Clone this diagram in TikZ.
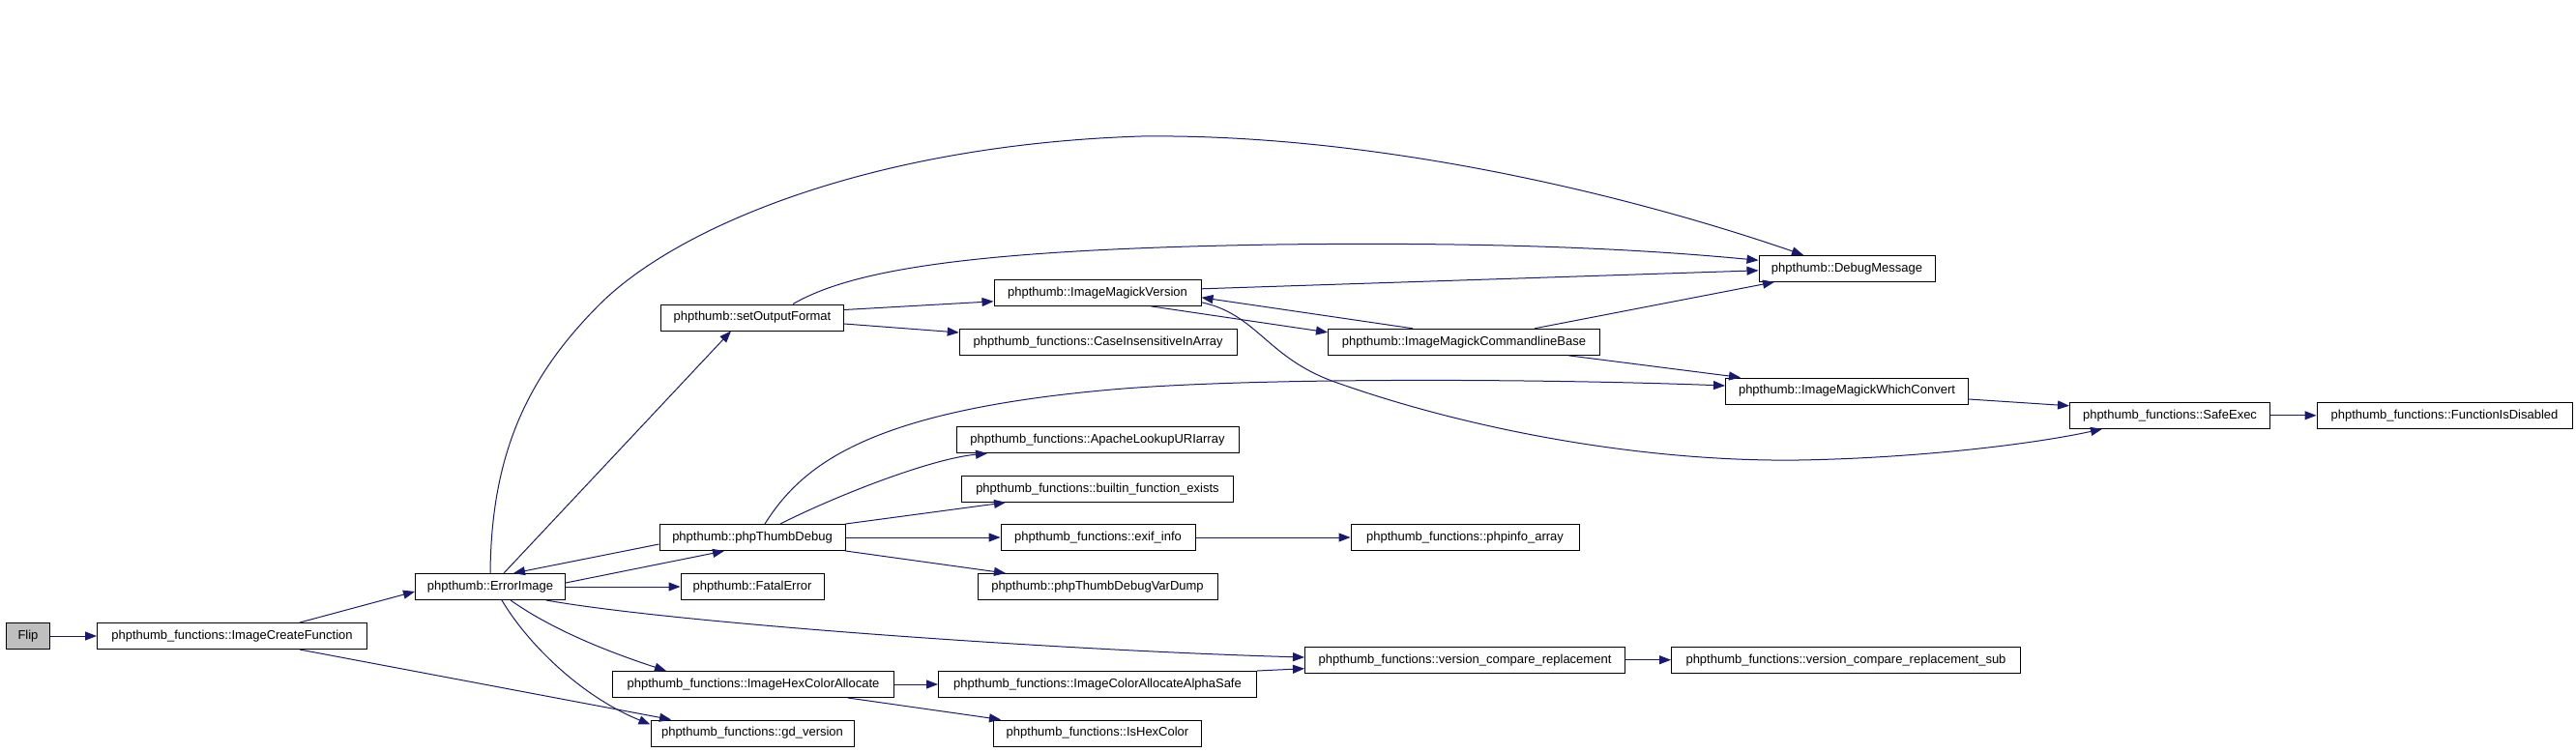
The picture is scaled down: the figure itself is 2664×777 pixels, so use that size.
\documentclass[tikz,border=0pt]{standalone}
\usepackage{fontspec}
\setmainfont{Liberation Sans}
\usetikzlibrary{arrows.meta}
\definecolor{edgeblue}{RGB}{25,25,112}
\definecolor{flipgray}{RGB}{191,191,191}
\begin{document}
\begin{tikzpicture}[x=1pt,y=-1pt,
  fn/.style={draw=black, line width=1pt, fill=white, minimum height=27pt, inner sep=0pt, font=\fontsize{13}{15}\selectfont},
  call/.style={draw=edgeblue, line width=1pt, -{Triangle[length=12pt,width=9pt]}},
]
\path[fill=white, use as bounding box] (0,0) rectangle (2664,777);

% nodes
\node[fn, minimum width=45pt, fill=flipgray] (flip) at (29,658) {Flip};
\node[fn, minimum width=279pt] (icf) at (240,658) {phpthumb\_functions::ImageCreateFunction};
\node[fn, minimum width=155pt] (errimg) at (507,607) {phpthumb::ErrorImage};
\node[fn, minimum width=189pt] (setout) at (778,328.5) {phpthumb::setOutputFormat};
\node[fn, minimum width=192pt] (dbg) at (778,556) {phpthumb::phpThumbDebug};
\node[fn, minimum width=148pt] (fatal) at (778,607) {phpthumb::FatalError};
\node[fn, minimum width=291pt] (hexalloc) at (779,708) {phpthumb\_functions::ImageHexColorAllocate};
\node[fn, minimum width=210pt] (gdver) at (778,758.5) {phpthumb\_functions::gd\_version};
\node[fn, minimum width=214pt] (imver) at (1135,302.8) {phpthumb::ImageMagickVersion};
\node[fn, minimum width=287pt] (caseins) at (1135.7,353.7) {phpthumb\_functions::CaseInsensitiveInArray};
\node[fn, minimum width=292pt] (apache) at (1135,455) {phpthumb\_functions::ApacheLookupURIarray};
\node[fn, minimum width=281pt] (builtin) at (1135,505.8) {phpthumb\_functions::builtin\_function\_exists};
\node[fn, minimum width=201pt] (exif) at (1135.5,556) {phpthumb\_functions::exif\_info};
\node[fn, minimum width=248pt] (dump) at (1135,607) {phpthumb::phpThumbDebugVarDump};
\node[fn, minimum width=329pt] (alphasafe) at (1135,708) {phpthumb\_functions::ImageColorAllocateAlphaSafe};
\node[fn, minimum width=215pt] (ishex) at (1135,758.5) {phpthumb\_functions::IsHexColor};
\node[fn, minimum width=281pt] (cmdbase) at (1514,353.8) {phpthumb::ImageMagickCommandlineBase};
\node[fn, minimum width=236pt] (phpinfo) at (1515,556) {phpthumb\_functions::phpinfo\_array};
\node[fn, minimum width=331pt] (vcr) at (1515,682.7) {phpthumb\_functions::version\_compare\_replacement};
\node[fn, minimum width=182pt] (dbgmsg) at (1910,277.8) {phpthumb::DebugMessage};
\node[fn, minimum width=251pt] (whichconv) at (1910,404.5) {phpthumb::ImageMagickWhichConvert};
\node[fn, minimum width=361pt] (vcrsub) at (1909,682.7) {phpthumb\_functions::version\_compare\_replacement\_sub};
\node[fn, minimum width=207pt] (safeexec) at (2244,429.8) {phpthumb\_functions::SafeExec};
\node[fn, minimum width=264pt] (fndis) at (2528,429.8) {phpthumb\_functions::FunctionIsDisabled};

% straight edges
\draw[call] (flip) -- (icf);
\draw[call] ([xshift=70pt]icf.north) -- ([yshift=-5pt]errimg.west);
\draw[call] ([xshift=70pt]icf.south) -- ([xshift=-84pt]gdver.north);
\draw[call] ([xshift=14pt]errimg.north) -- ([xshift=-22pt]setout.south);
\draw[call] (errimg) -- (fatal);
\draw[call] ([yshift=4pt]errimg.east) -- ([xshift=-29pt]dbg.south);
\draw[call] ([yshift=-7pt]dbg.west) -- ([xshift=24pt]errimg.north);
\draw[call] ([yshift=8pt]setout.east) -- ([yshift=-9pt]imver.west);
\draw[call] ([yshift=-6.5pt]setout.east) -- ([yshift=9.7pt]caseins.west);
\draw[call] ([yshift=4pt]imver.east) -- ([yshift=-2pt]dbgmsg.west);
\draw[call] ([xshift=55pt]imver.south) -- ([yshift=10pt]cmdbase.west);
\draw[call] ([xshift=-53pt]cmdbase.north) -- ([yshift=-5pt]imver.east);
\draw[call] ([xshift=73pt]cmdbase.north) -- ([xshift=-75pt]dbgmsg.south);
\draw[call] ([xshift=108pt]cmdbase.south) -- ([xshift=-110pt]whichconv.north);
\draw[call] ([yshift=-8.5pt]whichconv.east) -- ([yshift=10pt]safeexec.west);
\draw[call] (safeexec) -- (fndis);
\draw[call] (dbg.north east) -- ([xshift=-95pt]builtin.south);
\draw[call] (dbg) -- (exif);
\draw[call] (dbg.south east) -- ([xshift=-95pt]dump.north);
\draw[call] (exif) -- (phpinfo);
\draw[call] (hexalloc) -- (alphasafe);
\draw[call] ([xshift=98pt]hexalloc.south) -- ([xshift=-100pt]ishex.north);
\draw[call] (alphasafe.north east) -- ([yshift=-9pt]vcr.west);
\draw[call] (vcr) -- (vcrsub);

% curved edges
\draw[call] ([xshift=29pt]dbg.north) .. controls (860,515) and (960,475) .. ([xshift=-114pt]apache.south);
\draw[call] ([xshift=13pt]dbg.north) .. controls (830,480) and (900,425) .. (1150,403)
  .. controls (1300,390) and (1600,392) .. ([yshift=5.5pt]whichconv.west);
\draw[call] ([yshift=-10pt]imver.east) .. controls (1300,325) and (1310,370) .. (1380,395)
  .. controls (1520,445) and (1700,478) .. (1860,476)
  .. controls (1980,474) and (2100,460) .. ([xshift=-70pt]safeexec.south);
\draw[call] ([xshift=42pt]setout.north) .. controls (880,280) and (1000,258) .. (1320,253)
  .. controls (1550,250) and (1700,258) .. ([yshift=8.5pt]dbgmsg.west);
\draw[call] (errimg.north) .. controls (508,470) and (545,390) .. (620,315)
  .. controls (700,235) and (900,150) .. (1180,141)
  .. controls (1420,138) and (1680,200) .. ([xshift=-45pt]dbgmsg.north);
\draw[call] ([xshift=58pt]errimg.south) .. controls (700,645) and (1100,673) .. ([yshift=2.7pt]vcr.west);
\draw[call] ([xshift=21pt]errimg.south) .. controls (555,640) and (600,665) .. ([xshift=-90pt]hexalloc.north);
\draw[call] ([xshift=12pt]errimg.south) .. controls (545,665) and (600,720) .. ([yshift=9pt]gdver.west);
\end{tikzpicture}
\end{document}
